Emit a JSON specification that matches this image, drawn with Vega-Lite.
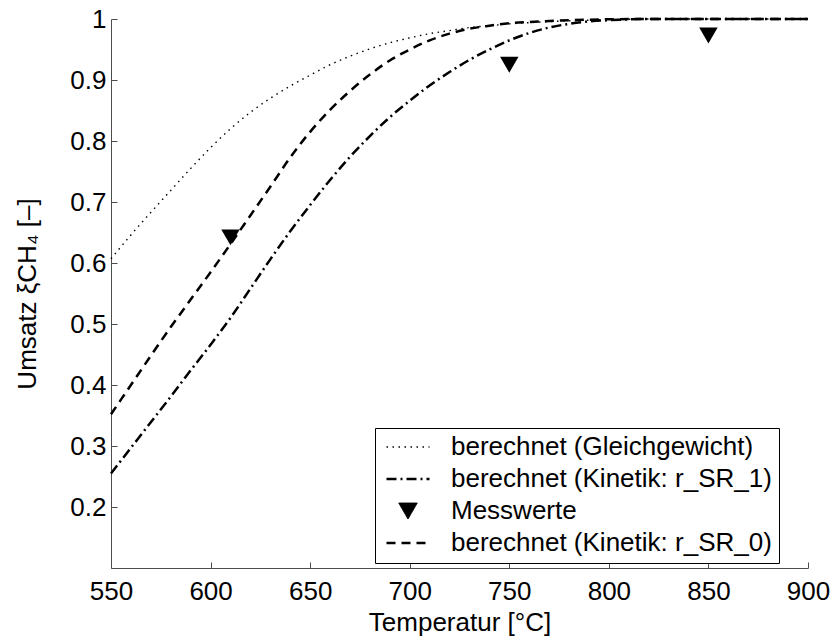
{
  "$schema": "https://vega.github.io/schema/vega-lite/v6.json",
  "autosize": {"type": "none"},
  "width": 697,
  "height": 549,
  "padding": {"left": 111, "top": 19, "right": 24, "bottom": 73},
  "background": "white",
  "config": {
    "view": {"stroke": null},
    "axis": {
      "labelFont": "Liberation Sans",
      "labelFontSize": 26,
      "labelColor": "black",
      "titleFont": "Liberation Sans",
      "titleFontSize": 26,
      "titleFontWeight": "normal",
      "titleColor": "black",
      "domainColor": "#4d4d4d",
      "tickColor": "#4d4d4d",
      "tickSize": -6,
      "grid": false,
      "labelOverlap": false
    },
    "legend": {
      "orient": "none",
      "legendX": 264,
      "legendY": 409,
      "labelFont": "Liberation Sans",
      "labelFontSize": 26,
      "labelColor": "black",
      "strokeColor": "black",
      "fillColor": "white",
      "padding": 7,
      "rowPadding": 6,
      "clipHeight": 24,
      "symbolOffset": 3,
      "labelOffset": 20,
      "labelLimit": 600,
      "cornerRadius": 0,
      "symbolFillColor": "black"
    }
  },
  "datasets": {
    "curves": [
      {"series": "berechnet (Gleichgewicht)", "T": 550, "v": 0.607},
      {"series": "berechnet (Gleichgewicht)", "T": 560, "v": 0.646},
      {"series": "berechnet (Gleichgewicht)", "T": 570, "v": 0.683},
      {"series": "berechnet (Gleichgewicht)", "T": 580, "v": 0.719},
      {"series": "berechnet (Gleichgewicht)", "T": 590, "v": 0.755},
      {"series": "berechnet (Gleichgewicht)", "T": 600, "v": 0.789},
      {"series": "berechnet (Gleichgewicht)", "T": 610, "v": 0.820},
      {"series": "berechnet (Gleichgewicht)", "T": 620, "v": 0.847},
      {"series": "berechnet (Gleichgewicht)", "T": 630, "v": 0.870},
      {"series": "berechnet (Gleichgewicht)", "T": 640, "v": 0.890},
      {"series": "berechnet (Gleichgewicht)", "T": 650, "v": 0.908},
      {"series": "berechnet (Gleichgewicht)", "T": 660, "v": 0.925},
      {"series": "berechnet (Gleichgewicht)", "T": 670, "v": 0.939},
      {"series": "berechnet (Gleichgewicht)", "T": 680, "v": 0.951},
      {"series": "berechnet (Gleichgewicht)", "T": 690, "v": 0.961},
      {"series": "berechnet (Gleichgewicht)", "T": 700, "v": 0.969},
      {"series": "berechnet (Gleichgewicht)", "T": 710, "v": 0.976},
      {"series": "berechnet (Gleichgewicht)", "T": 720, "v": 0.981},
      {"series": "berechnet (Gleichgewicht)", "T": 730, "v": 0.986},
      {"series": "berechnet (Gleichgewicht)", "T": 740, "v": 0.989},
      {"series": "berechnet (Gleichgewicht)", "T": 750, "v": 0.992},
      {"series": "berechnet (Gleichgewicht)", "T": 760, "v": 0.994},
      {"series": "berechnet (Gleichgewicht)", "T": 780, "v": 0.997},
      {"series": "berechnet (Gleichgewicht)", "T": 800, "v": 0.999},
      {"series": "berechnet (Gleichgewicht)", "T": 820, "v": 1.0},
      {"series": "berechnet (Gleichgewicht)", "T": 900, "v": 1.0},
      {"series": "berechnet (Kinetik: r_SR_1)", "T": 550, "v": 0.255},
      {"series": "berechnet (Kinetik: r_SR_1)", "T": 560, "v": 0.297},
      {"series": "berechnet (Kinetik: r_SR_1)", "T": 570, "v": 0.339},
      {"series": "berechnet (Kinetik: r_SR_1)", "T": 580, "v": 0.381},
      {"series": "berechnet (Kinetik: r_SR_1)", "T": 590, "v": 0.424},
      {"series": "berechnet (Kinetik: r_SR_1)", "T": 600, "v": 0.466},
      {"series": "berechnet (Kinetik: r_SR_1)", "T": 610, "v": 0.510},
      {"series": "berechnet (Kinetik: r_SR_1)", "T": 620, "v": 0.558},
      {"series": "berechnet (Kinetik: r_SR_1)", "T": 630, "v": 0.606},
      {"series": "berechnet (Kinetik: r_SR_1)", "T": 640, "v": 0.652},
      {"series": "berechnet (Kinetik: r_SR_1)", "T": 650, "v": 0.695},
      {"series": "berechnet (Kinetik: r_SR_1)", "T": 660, "v": 0.736},
      {"series": "berechnet (Kinetik: r_SR_1)", "T": 670, "v": 0.774},
      {"series": "berechnet (Kinetik: r_SR_1)", "T": 680, "v": 0.808},
      {"series": "berechnet (Kinetik: r_SR_1)", "T": 690, "v": 0.839},
      {"series": "berechnet (Kinetik: r_SR_1)", "T": 700, "v": 0.866},
      {"series": "berechnet (Kinetik: r_SR_1)", "T": 710, "v": 0.891},
      {"series": "berechnet (Kinetik: r_SR_1)", "T": 720, "v": 0.913},
      {"series": "berechnet (Kinetik: r_SR_1)", "T": 730, "v": 0.933},
      {"series": "berechnet (Kinetik: r_SR_1)", "T": 740, "v": 0.950},
      {"series": "berechnet (Kinetik: r_SR_1)", "T": 750, "v": 0.965},
      {"series": "berechnet (Kinetik: r_SR_1)", "T": 760, "v": 0.977},
      {"series": "berechnet (Kinetik: r_SR_1)", "T": 770, "v": 0.986},
      {"series": "berechnet (Kinetik: r_SR_1)", "T": 780, "v": 0.992},
      {"series": "berechnet (Kinetik: r_SR_1)", "T": 790, "v": 0.996},
      {"series": "berechnet (Kinetik: r_SR_1)", "T": 800, "v": 0.998},
      {"series": "berechnet (Kinetik: r_SR_1)", "T": 820, "v": 1.0},
      {"series": "berechnet (Kinetik: r_SR_1)", "T": 900, "v": 1.0},
      {"series": "berechnet (Kinetik: r_SR_0)", "T": 550, "v": 0.352},
      {"series": "berechnet (Kinetik: r_SR_0)", "T": 560, "v": 0.400},
      {"series": "berechnet (Kinetik: r_SR_0)", "T": 570, "v": 0.448},
      {"series": "berechnet (Kinetik: r_SR_0)", "T": 580, "v": 0.495},
      {"series": "berechnet (Kinetik: r_SR_0)", "T": 590, "v": 0.540},
      {"series": "berechnet (Kinetik: r_SR_0)", "T": 600, "v": 0.585},
      {"series": "berechnet (Kinetik: r_SR_0)", "T": 610, "v": 0.631},
      {"series": "berechnet (Kinetik: r_SR_0)", "T": 620, "v": 0.678},
      {"series": "berechnet (Kinetik: r_SR_0)", "T": 630, "v": 0.725},
      {"series": "berechnet (Kinetik: r_SR_0)", "T": 640, "v": 0.773},
      {"series": "berechnet (Kinetik: r_SR_0)", "T": 650, "v": 0.815},
      {"series": "berechnet (Kinetik: r_SR_0)", "T": 660, "v": 0.851},
      {"series": "berechnet (Kinetik: r_SR_0)", "T": 670, "v": 0.882},
      {"series": "berechnet (Kinetik: r_SR_0)", "T": 680, "v": 0.909},
      {"series": "berechnet (Kinetik: r_SR_0)", "T": 690, "v": 0.932},
      {"series": "berechnet (Kinetik: r_SR_0)", "T": 700, "v": 0.950},
      {"series": "berechnet (Kinetik: r_SR_0)", "T": 710, "v": 0.965},
      {"series": "berechnet (Kinetik: r_SR_0)", "T": 720, "v": 0.976},
      {"series": "berechnet (Kinetik: r_SR_0)", "T": 730, "v": 0.984},
      {"series": "berechnet (Kinetik: r_SR_0)", "T": 740, "v": 0.989},
      {"series": "berechnet (Kinetik: r_SR_0)", "T": 750, "v": 0.993},
      {"series": "berechnet (Kinetik: r_SR_0)", "T": 760, "v": 0.995},
      {"series": "berechnet (Kinetik: r_SR_0)", "T": 780, "v": 0.998},
      {"series": "berechnet (Kinetik: r_SR_0)", "T": 800, "v": 0.9995},
      {"series": "berechnet (Kinetik: r_SR_0)", "T": 820, "v": 1.0},
      {"series": "berechnet (Kinetik: r_SR_0)", "T": 900, "v": 1.0}
    ],
    "mess": [
      {"series": "Messwerte", "T": 610, "v": 0.642},
      {"series": "Messwerte", "T": 750, "v": 0.925},
      {"series": "Messwerte", "T": 850, "v": 0.973}
    ]
  },
  "layer": [
    {
      "data": {"name": "curves"},
      "mark": {"type": "line", "color": "black", "interpolate": "monotone", "strokeCap": "butt"},
      "encoding": {
        "x": {
          "field": "T", "type": "quantitative",
          "scale": {"domain": [550, 900], "nice": false, "zero": false},
          "axis": {"values": [550, 600, 650, 700, 750, 800, 850, 900], "title": "Temperatur [°C]", "labelPadding": 16, "titlePadding": 5, "labelFlush": false}
        },
        "y": {
          "field": "v", "type": "quantitative",
          "scale": {"domain": [0.1, 1], "nice": false, "zero": false},
          "axis": {"values": [0.2, 0.3, 0.4, 0.5, 0.6, 0.7, 0.8, 0.9, 1], "format": "~g", "title": "Umsatz ξCH₄ [–]", "labelPadding": 11, "titlePadding": 29}
        },
        "strokeDash": {
          "field": "series", "type": "nominal",
          "scale": {
            "domain": ["berechnet (Gleichgewicht)", "berechnet (Kinetik: r_SR_1)", "Messwerte", "berechnet (Kinetik: r_SR_0)"],
            "range": [[1.5, 4.5], [10, 4, 2, 4], [1, 0], [9, 6]]
          },
          "legend": {"title": null, "encode": {"symbols": {"update": {"stroke": {"value": "black"}}}}}
        },
        "strokeWidth": {
          "field": "series", "type": "nominal",
          "scale": {
            "type": "ordinal",
            "domain": ["berechnet (Gleichgewicht)", "berechnet (Kinetik: r_SR_1)", "Messwerte", "berechnet (Kinetik: r_SR_0)"],
            "range": [1.4, 2.5, 1, 2.5]
          },
          "legend": {"title": null, "encode": {"symbols": {"update": {"stroke": {"value": "black"}}}}}
        }
      }
    },
    {
      "data": {"name": "mess"},
      "mark": {"type": "point", "shape": "triangle-down", "filled": true, "color": "black", "opacity": 1, "zindex": 2},
      "encoding": {
        "x": {"field": "T", "type": "quantitative"},
        "y": {"field": "v", "type": "quantitative"},
        "shape": {
          "field": "series", "type": "nominal",
          "scale": {
            "domain": ["berechnet (Gleichgewicht)", "berechnet (Kinetik: r_SR_1)", "Messwerte", "berechnet (Kinetik: r_SR_0)"],
            "range": ["stroke", "stroke", "triangle-down", "stroke"]
          },
          "legend": {"title": null, "encode": {"symbols": {"update": {"stroke": {"value": "black"}}}}}
        },
        "size": {
          "field": "series", "type": "nominal",
          "scale": {
            "type": "ordinal",
            "domain": ["berechnet (Gleichgewicht)", "berechnet (Kinetik: r_SR_1)", "Messwerte", "berechnet (Kinetik: r_SR_0)"],
            "range": [1849, 1849, 340, 1849]
          },
          "legend": {"title": null, "encode": {"symbols": {"update": {"stroke": {"value": "black"}}}}}
        }
      }
    }
  ]
}
